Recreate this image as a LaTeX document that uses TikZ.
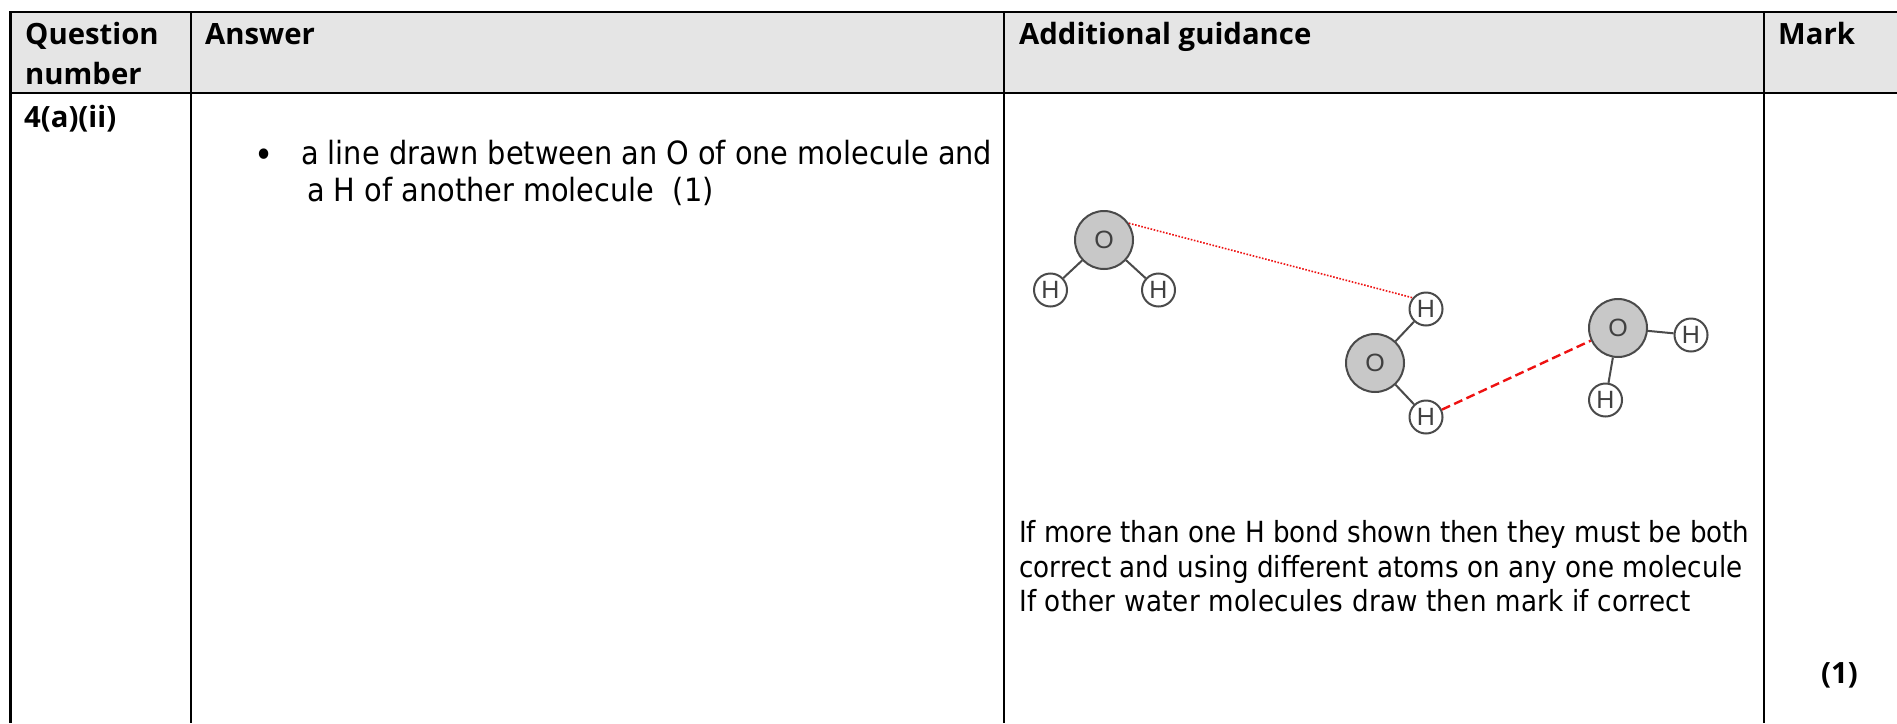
\documentclass[tikz,border=0pt]{standalone}
\usepackage{fontspec}
\setmainfont{Open Sans}
\newfontfamily\bodyf{DejaVu Sans Condensed}
\newfontfamily\atomf{Liberation Sans}
\definecolor{hdr}{HTML}{E5E5E5}
\definecolor{oxy}{HTML}{C8C8C8}
\definecolor{bondc}{HTML}{4A4A4A}
\definecolor{hb}{HTML}{EE1111}
\tikzset{
  x=1pt,y=-1pt,
  rule/.style={line width=2.6pt,black},
  headtext/.style={anchor=base west,inner sep=0pt,font=\fontsize{29.3}{38}\selectfont\bfseries,text=black},
  guidetext/.style={anchor=base west,inner sep=0pt,font=\bodyf\fontsize{29.1}{35}\selectfont},
  answertext/.style={anchor=base west,inner sep=0pt,font=\bodyf\fontsize{32}{38}\selectfont},
  oatom/.style={circle,draw=bondc,line width=2pt,fill=oxy,minimum size=58pt,inner sep=0pt,font=\atomf\fontsize{25}{25}\selectfont,text=black!75},
  hatom/.style={circle,draw=bondc,line width=2pt,fill=white,minimum size=33pt,inner sep=0pt,font=\atomf\fontsize{25}{25}\selectfont,text=black!75},
  bond/.style={line width=2pt,bondc},
  hbdot/.style={hb,line width=1.6pt,dash pattern=on 1.6pt off 1.6pt},
  hbdash/.style={hb,line width=2.4pt,dash pattern=on 9pt off 4.5pt}
}
\begin{document}
\begin{tikzpicture}
\useasboundingbox (0,0) rectangle (1897,723);
\fill[white] (0,0) rectangle (1897,723);
% header band
\fill[hdr] (10,12) rectangle (1897,93);
% table rules
\draw[rule] (10,12) -- (1897,12);
\draw[rule] (10,93) -- (1897,93);
\draw[rule] (10.5,11) -- (10.5,723);
\draw[rule] (191,12) -- (191,723);
\draw[rule] (1004,12) -- (1004,723);
\draw[rule] (1764,12) -- (1764,723);
% header and cell texts
\node[headtext] (q1) at (25,44) {Question};
\node[headtext] (q2) at (25,84) {number};
\node[headtext] (ans) at (205,44) {Answer};
\node[headtext] (ag) at (1019,44) {Additional guidance};
\node[headtext] (mk) at (1778,44) {Mark};
\node[headtext] (qn) at (24,127) {4(a)(ii)};
\node[headtext] (m1) at (1821,683) {(1)};
\node[anchor=base,inner sep=0pt,font=\bodyf\fontsize{36}{36}\selectfont] (bul) at (264,167) {•};
\node[answertext] (a1) at (301,164) {a line drawn between an O of one molecule and};
\node[answertext] (a2) at (307,201) {a H of another molecule\ \ (1)};
\node[guidetext] (g1) at (1019,542) {If more than one H bond shown then they must be both};
\node[guidetext] (g2) at (1019,577) {\addfontfeature{LetterSpace=0.33}correct and using different atoms on any one molecule};
\node[guidetext] (g3) at (1019,611) {\addfontfeature{LetterSpace=0.9}If other water molecules draw then mark if correct};
% molecules
\node[oatom] (o1) at (1104,240) {O};
\node[hatom] (h1) at (1050.5,290) {H};
\node[hatom] (h2) at (1158.5,290) {H};
\node[hatom] (h3) at (1426,309) {H};
\node[oatom] (o2) at (1375,363) {O};
\node[hatom] (h4) at (1426,417) {H};
\node[oatom] (o3) at (1618,328) {O};
\node[hatom] (h5) at (1691,335) {H};
\node[hatom] (h6) at (1605.5,400) {H};
\draw[bond] (o1) -- (h1);
\draw[bond] (o1) -- (h2);
\draw[bond] (o2) -- (h3);
\draw[bond] (o2) -- (h4);
\draw[bond] (o3) -- (h5);
\draw[bond] (o3) -- (h6);
\draw[hbdot] (o1.34) -- (h3.140);
\draw[hbdash] (h4) -- (o3);
\end{tikzpicture}
\end{document}
